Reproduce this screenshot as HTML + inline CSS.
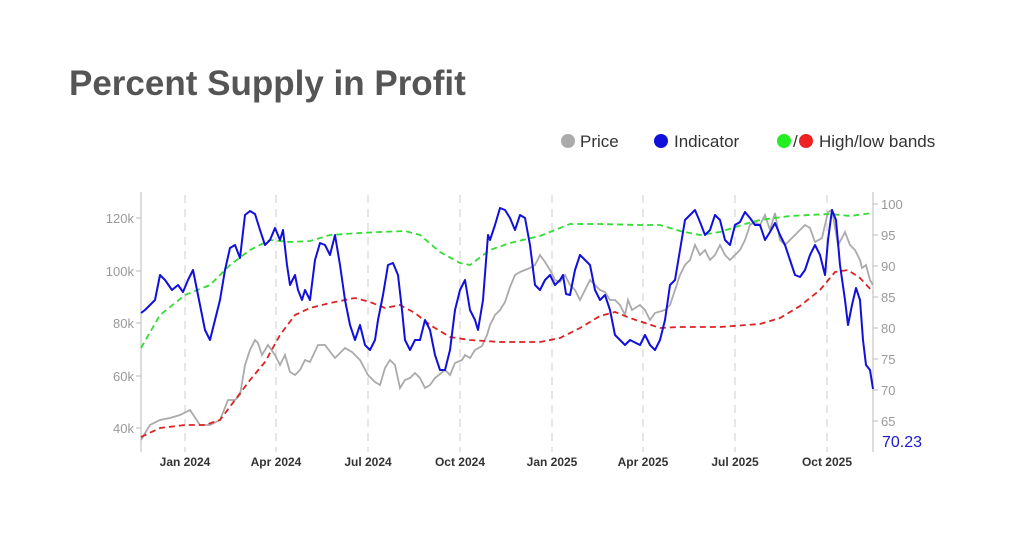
<!DOCTYPE html>
<html><head><meta charset="utf-8"><style>
body{margin:0;background:#fff;width:1024px;height:555px;overflow:hidden;font-family:"Liberation Sans",sans-serif}
</style></head><body>
<svg width="1024" height="555" xmlns="http://www.w3.org/2000/svg" style="position:absolute;left:0;top:0">
<text x="69" y="95" font-size="35" font-weight="bold" fill="#555" font-family="Liberation Sans, sans-serif">Percent Supply in Profit</text>
<g font-size="17" fill="#333" font-family="Liberation Sans, sans-serif">
<circle cx="568" cy="141" r="7" fill="#aaa"/><text x="580" y="147">Price</text>
<circle cx="661" cy="141" r="7" fill="#1010dd"/><text x="674" y="147">Indicator</text>
<circle cx="784" cy="141" r="7" fill="#22ee22"/><text x="793" y="147">/</text><circle cx="806" cy="141" r="7" fill="#ee2222"/><text x="819" y="147">High/low bands</text>
</g>
<g stroke="#ddd" stroke-width="1.5" stroke-dasharray="8,6">
<line x1="185" y1="195" x2="185" y2="452"/><line x1="276" y1="195" x2="276" y2="452"/><line x1="368" y1="195" x2="368" y2="452"/><line x1="460" y1="195" x2="460" y2="452"/><line x1="552" y1="195" x2="552" y2="452"/><line x1="643" y1="195" x2="643" y2="452"/><line x1="735" y1="195" x2="735" y2="452"/><line x1="827" y1="195" x2="827" y2="452"/>
</g>
<g stroke="#bbb" stroke-width="1"><line x1="141" y1="192" x2="141" y2="452"/><line x1="873" y1="192" x2="873" y2="452"/>
<line x1="136" y1="218" x2="141" y2="218"/><line x1="136" y1="271" x2="141" y2="271"/><line x1="136" y1="323" x2="141" y2="323"/><line x1="136" y1="376" x2="141" y2="376"/><line x1="136" y1="428" x2="141" y2="428"/>
<line x1="873" y1="204" x2="878" y2="204"/><line x1="873" y1="235" x2="878" y2="235"/><line x1="873" y1="266" x2="878" y2="266"/><line x1="873" y1="297" x2="878" y2="297"/><line x1="873" y1="328" x2="878" y2="328"/><line x1="873" y1="359" x2="878" y2="359"/><line x1="873" y1="390" x2="878" y2="390"/><line x1="873" y1="421" x2="878" y2="421"/></g>
<g font-size="13" fill="#999" text-anchor="end"><text x="134" y="223">120k</text><text x="134" y="276">100k</text><text x="134" y="328">80k</text><text x="134" y="381">60k</text><text x="134" y="433">40k</text></g>
<g font-size="13" fill="#999"><text x="881" y="209">100</text><text x="881" y="240">95</text><text x="881" y="271">90</text><text x="881" y="302">85</text><text x="881" y="333">80</text><text x="881" y="364">75</text><text x="881" y="395">70</text><text x="881" y="426">65</text></g>
<text x="882" y="447" font-size="16" fill="#1a1acc">70.23</text>
<g font-size="12" fill="#333" font-weight="bold" text-anchor="middle"><text x="185" y="466">Jan 2024</text><text x="276" y="466">Apr 2024</text><text x="368" y="466">Jul 2024</text><text x="460" y="466">Oct 2024</text><text x="552" y="466">Jan 2025</text><text x="643" y="466">Apr 2025</text><text x="735" y="466">Jul 2025</text><text x="827" y="466">Oct 2025</text></g>
<polyline fill="none" stroke="#aaa" stroke-width="1.8" points="141,440 150,425 160,420 170,418 180,415 190,410 200,425 210,425 220,420 228,400 235,400 240,395 245,365 250,350 255,340 258,343 262,355 268,345 275,355 280,365 285,355 290,372 295,375 300,370 305,360 310,362 318,345 325,345 335,358 345,348 352,352 360,360 368,375 375,382 380,385 385,368 390,360 395,365 400,388 405,380 410,378 415,373 420,378 425,388 430,385 435,378 440,374 445,370 450,375 455,363 462,360 465,355 470,358 475,350 482,346 487,335 490,325 495,315 500,310 505,302 510,287 515,275 520,272 525,270 530,268 535,265 540,255 545,262 550,270 555,280 560,282 565,275 570,285 575,290 580,300 585,290 590,280 595,285 600,290 605,292 610,300 615,300 620,305 625,315 628,300 632,310 640,305 645,310 650,320 655,313 665,310 670,305 675,290 680,275 685,265 690,260 695,245 700,255 705,250 710,260 715,255 720,245 725,255 730,260 735,255 740,250 745,240 750,225 755,222 760,225 765,215 770,230 775,213 780,240 785,245 790,240 795,235 800,230 805,225 810,228 815,242 822,238 828,212 832,210 838,245 842,238 845,232 850,245 855,250 860,260 862,268 866,265 870,280 873,285"/>
<polyline fill="none" stroke="#33dd33" stroke-width="1.8" stroke-dasharray="6,4" points="141,348 160,315 185,295 210,285 230,265 250,250 270,240 290,242 310,241 330,235 360,233 380,232 405,231 420,235 440,252 460,263 470,265 490,250 510,243 540,236 570,224 600,224 640,225 660,225 680,231 700,235 720,232 745,224 760,220 790,216 830,214 850,216 873,213"/>
<polyline fill="none" stroke="#dd2222" stroke-width="1.8" stroke-dasharray="6,4" points="141,437 160,428 185,425 205,425 220,420 235,400 250,380 265,362 280,335 295,315 310,308 330,303 355,298 370,302 385,308 400,305 415,313 430,325 450,337 470,340 500,342 540,342 560,338 580,328 600,316 615,312 630,318 645,323 660,328 680,327 720,327 760,324 780,318 800,306 820,290 835,272 848,270 860,278 873,292"/>
<polyline fill="none" stroke="#1010dd" stroke-width="2" stroke-linejoin="round" points="141,313 145,310 150,305 155,300 160,275 165,280 172,290 178,285 183,292 188,280 193,270 197,290 200,305 205,330 210,340 215,320 220,300 225,270 230,248 235,245 240,258 245,215 250,211 255,214 260,230 265,245 270,240 275,228 280,240 283,230 287,265 290,285 295,275 298,290 302,300 305,290 310,300 315,260 320,243 325,245 330,255 335,235 340,265 345,300 350,325 355,340 360,325 365,345 370,350 375,340 378,320 383,295 388,265 393,263 398,275 402,310 405,340 410,350 415,340 420,340 425,320 430,330 435,355 440,370 445,370 450,350 455,310 460,290 465,280 470,310 475,320 478,330 483,300 488,235 490,240 495,225 500,208 505,210 510,218 515,230 520,215 525,218 530,245 535,285 540,290 545,280 550,275 555,285 560,280 563,275 566,294 570,295 575,270 580,255 585,260 590,265 595,290 600,300 605,295 610,310 615,335 620,340 625,345 630,340 640,345 645,335 650,345 655,350 660,340 665,320 670,285 675,280 680,250 685,220 690,215 695,210 700,222 705,235 710,230 715,215 720,220 725,240 730,245 735,225 740,222 745,212 750,218 755,225 760,225 765,240 770,232 775,223 780,235 785,245 790,260 795,275 800,277 805,270 810,255 815,245 820,255 825,275 828,240 832,210 836,220 840,265 845,300 848,325 852,305 856,288 860,300 863,340 866,365 870,370 873,389"/>
</svg>
</body></html>
